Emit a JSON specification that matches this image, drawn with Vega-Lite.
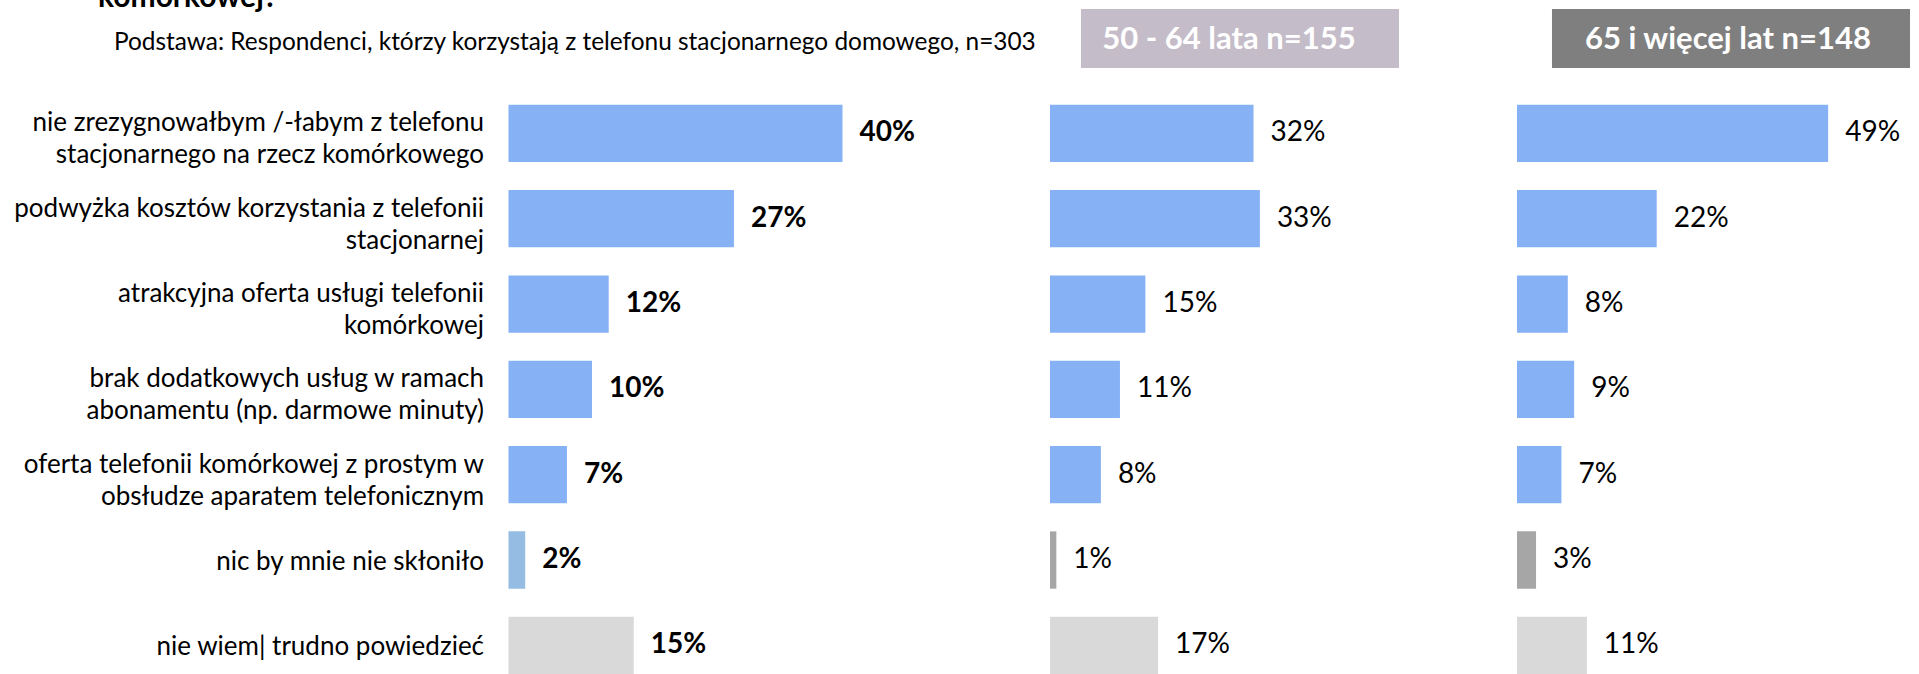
{
  "$schema": "https://vega.github.io/schema/vega-lite/v6.json",
  "width": 1919,
  "height": 674,
  "autosize": {"type": "fit", "contains": "padding"},
  "padding": 0,
  "background": "white",
  "config": {"view": {"stroke": null}, "font": "Lato", "text": {"color": "#000000"}},
  "datasets": {
    "wyniki": [
      {"grupa": "ogółem n=303", "powod": "nie zrezygnowałbym /-łabym z telefonu\nstacjonarnego na rzecz komórkowego", "udzial": 0.40},
      {"grupa": "ogółem n=303", "powod": "podwyżka kosztów korzystania z telefonii\nstacjonarnej", "udzial": 0.27},
      {"grupa": "ogółem n=303", "powod": "atrakcyjna oferta usługi telefonii\nkomórkowej", "udzial": 0.12},
      {"grupa": "ogółem n=303", "powod": "brak dodatkowych usług w ramach \nabonamentu (np. darmowe minuty)", "udzial": 0.10},
      {"grupa": "ogółem n=303", "powod": "oferta telefonii komórkowej z prostym w\nobsłudze aparatem telefonicznym", "udzial": 0.07},
      {"grupa": "ogółem n=303", "powod": "nic by mnie nie skłoniło", "udzial": 0.02},
      {"grupa": "ogółem n=303", "powod": "nie wiem| trudno powiedzieć", "udzial": 0.15},
      {"grupa": "50 - 64 lata n=155", "powod": "nie zrezygnowałbym /-łabym z telefonu\nstacjonarnego na rzecz komórkowego", "udzial": 0.32},
      {"grupa": "50 - 64 lata n=155", "powod": "podwyżka kosztów korzystania z telefonii\nstacjonarnej", "udzial": 0.33},
      {"grupa": "50 - 64 lata n=155", "powod": "atrakcyjna oferta usługi telefonii\nkomórkowej", "udzial": 0.15},
      {"grupa": "50 - 64 lata n=155", "powod": "brak dodatkowych usług w ramach \nabonamentu (np. darmowe minuty)", "udzial": 0.11},
      {"grupa": "50 - 64 lata n=155", "powod": "oferta telefonii komórkowej z prostym w\nobsłudze aparatem telefonicznym", "udzial": 0.08},
      {"grupa": "50 - 64 lata n=155", "powod": "nic by mnie nie skłoniło", "udzial": 0.01},
      {"grupa": "50 - 64 lata n=155", "powod": "nie wiem| trudno powiedzieć", "udzial": 0.17},
      {"grupa": "65 i więcej lat n=148", "powod": "nie zrezygnowałbym /-łabym z telefonu\nstacjonarnego na rzecz komórkowego", "udzial": 0.49},
      {"grupa": "65 i więcej lat n=148", "powod": "podwyżka kosztów korzystania z telefonii\nstacjonarnej", "udzial": 0.22},
      {"grupa": "65 i więcej lat n=148", "powod": "atrakcyjna oferta usługi telefonii\nkomórkowej", "udzial": 0.08},
      {"grupa": "65 i więcej lat n=148", "powod": "brak dodatkowych usług w ramach \nabonamentu (np. darmowe minuty)", "udzial": 0.09},
      {"grupa": "65 i więcej lat n=148", "powod": "oferta telefonii komórkowej z prostym w\nobsłudze aparatem telefonicznym", "udzial": 0.07},
      {"grupa": "65 i więcej lat n=148", "powod": "nic by mnie nie skłoniło", "udzial": 0.03},
      {"grupa": "65 i więcej lat n=148", "powod": "nie wiem| trudno powiedzieć", "udzial": 0.11}
    ],
    "naglowki": [
      {"grupa": "50 - 64 lata n=155"},
      {"grupa": "65 i więcej lat n=148"}
    ],
    "opisy": [
      {"rodzaj": "tytul", "tekst": "komórkowej?"},
      {"rodzaj": "podstawa", "tekst": "Podstawa: Respondenci, którzy korzystają z telefonu stacjonarnego domowego, n=303"}
    ]
  },
  "resolve": {"scale": {"x": "independent", "y": "independent"}},
  "layer": [
    {
      "data": {"name": "wyniki"},
      "transform": [{"filter": "datum.grupa == 'ogółem n=303'"}],
      "encoding": {
        "y": {
          "field": "powod", "type": "nominal", "sort": null, "axis": null,
          "scale": {
            "type": "band",
            "domain": [
              "nie zrezygnowałbym /-łabym z telefonu\nstacjonarnego na rzecz komórkowego",
              "podwyżka kosztów korzystania z telefonii\nstacjonarnej",
              "atrakcyjna oferta usługi telefonii\nkomórkowej",
              "brak dodatkowych usług w ramach \nabonamentu (np. darmowe minuty)",
              "oferta telefonii komórkowej z prostym w\nobsłudze aparatem telefonicznym",
              "nic by mnie nie skłoniło",
              "nie wiem| trudno powiedzieć"
            ],
            "paddingInner": 0.3285, "paddingOuter": 0.6137, "align": 1
          }
        }
      },
      "layer": [
        {
          "mark": {"type": "bar"},
          "encoding": {
            "x": {"field": "udzial", "type": "quantitative", "axis": null, "scale": {"domain": [-0.60898, 1.68922], "zero": false, "nice": false}},
            "x2": {"datum": 0},
            "color": {
              "condition": [
                {"test": "datum.powod == 'nic by mnie nie skłoniło'", "value": "#95BCE2"},
                {"test": "datum.powod == 'nie wiem| trudno powiedzieć'", "value": "#D9D9D9"}
              ],
              "value": "#86B2F5"
            }
          }
        },
        {
          "mark": {"type": "text", "align": "left", "baseline": "middle", "dx": 17, "fontSize": 28, "fontWeight": "bold"},
          "encoding": {
            "x": {"field": "udzial", "type": "quantitative"},
            "text": {"field": "udzial", "type": "quantitative", "format": ".0%"}
          }
        },
        {
          "transform": [{"filter": "datum.powod != 'nic by mnie nie skłoniło' && datum.powod != 'nie wiem| trudno powiedzieć'"}],
          "mark": {"type": "text", "align": "right", "baseline": "middle", "dy": -10, "fontSize": 26, "lineBreak": "\n", "lineHeight": 32},
          "encoding": {
            "x": {"datum": -0.0293, "type": "quantitative"},
            "text": {"field": "powod", "type": "nominal"}
          }
        },
        {
          "transform": [{"filter": "datum.powod == 'nic by mnie nie skłoniło' || datum.powod == 'nie wiem| trudno powiedzieć'"}],
          "mark": {"type": "text", "align": "right", "baseline": "middle", "dy": 2, "fontSize": 26},
          "encoding": {
            "x": {"datum": -0.0293, "type": "quantitative"},
            "text": {"field": "powod", "type": "nominal"}
          }
        }
      ]
    },
    {
      "data": {"name": "wyniki"},
      "transform": [{"filter": "datum.grupa == '50 - 64 lata n=155'"}],
      "encoding": {
        "y": {
          "field": "powod", "type": "nominal", "sort": null, "axis": null,
          "scale": {
            "type": "band",
            "domain": [
              "nie zrezygnowałbym /-łabym z telefonu\nstacjonarnego na rzecz komórkowego",
              "podwyżka kosztów korzystania z telefonii\nstacjonarnej",
              "atrakcyjna oferta usługi telefonii\nkomórkowej",
              "brak dodatkowych usług w ramach \nabonamentu (np. darmowe minuty)",
              "oferta telefonii komórkowej z prostym w\nobsłudze aparatem telefonicznym",
              "nic by mnie nie skłoniło",
              "nie wiem| trudno powiedzieć"
            ],
            "paddingInner": 0.3285, "paddingOuter": 0.6137, "align": 1
          }
        }
      },
      "layer": [
        {
          "mark": {"type": "bar"},
          "encoding": {
            "x": {"field": "udzial", "type": "quantitative", "axis": null, "scale": {"domain": [-1.65094, 1.36635], "zero": false, "nice": false}},
            "x2": {"datum": 0},
            "color": {
              "condition": [
                {"test": "datum.powod == 'nic by mnie nie skłoniło'", "value": "#A6A6A6"},
                {"test": "datum.powod == 'nie wiem| trudno powiedzieć'", "value": "#D9D9D9"}
              ],
              "value": "#86B2F5"
            }
          }
        },
        {
          "mark": {"type": "text", "align": "left", "baseline": "middle", "dx": 17, "fontSize": 28},
          "encoding": {
            "x": {"field": "udzial", "type": "quantitative"},
            "text": {"field": "udzial", "type": "quantitative", "format": ".0%"}
          }
        }
      ]
    },
    {
      "data": {"name": "wyniki"},
      "transform": [{"filter": "datum.grupa == '65 i więcej lat n=148'"}],
      "encoding": {
        "y": {
          "field": "powod", "type": "nominal", "sort": null, "axis": null,
          "scale": {
            "type": "band",
            "domain": [
              "nie zrezygnowałbym /-łabym z telefonu\nstacjonarnego na rzecz komórkowego",
              "podwyżka kosztów korzystania z telefonii\nstacjonarnej",
              "atrakcyjna oferta usługi telefonii\nkomórkowej",
              "brak dodatkowych usług w ramach \nabonamentu (np. darmowe minuty)",
              "oferta telefonii komórkowej z prostym w\nobsłudze aparatem telefonicznym",
              "nic by mnie nie skłoniło",
              "nie wiem| trudno powiedzieć"
            ],
            "paddingInner": 0.3285, "paddingOuter": 0.6137, "align": 1
          }
        }
      },
      "layer": [
        {
          "mark": {"type": "bar"},
          "encoding": {
            "x": {"field": "udzial", "type": "quantitative", "axis": null, "scale": {"domain": [-2.38898, 0.63307], "zero": false, "nice": false}},
            "x2": {"datum": 0},
            "color": {
              "condition": [
                {"test": "datum.powod == 'nic by mnie nie skłoniło'", "value": "#A6A6A6"},
                {"test": "datum.powod == 'nie wiem| trudno powiedzieć'", "value": "#D9D9D9"}
              ],
              "value": "#86B2F5"
            }
          }
        },
        {
          "mark": {"type": "text", "align": "left", "baseline": "middle", "dx": 17, "fontSize": 28},
          "encoding": {
            "x": {"field": "udzial", "type": "quantitative"},
            "text": {"field": "udzial", "type": "quantitative", "format": ".0%"}
          }
        }
      ]
    },
    {
      "data": {"name": "naglowki"},
      "transform": [{"filter": "datum.grupa == '50 - 64 lata n=155'"}],
      "encoding": {
        "y": {"field": "grupa", "type": "nominal", "axis": null, "scale": {"type": "band", "domain": ["50 - 64 lata n=155"], "paddingInner": 0.8081, "paddingOuter": 1, "align": 0.01463}}
      },
      "layer": [
        {
          "mark": {"type": "bar", "color": "#C4BCC8"},
          "encoding": {
            "x": {"datum": 0.0487, "type": "quantitative", "axis": null, "scale": {"domain": [-1.65094, 1.36635], "zero": false, "nice": false}},
            "x2": {"datum": 0.5487}
          }
        },
        {
          "mark": {"type": "text", "align": "center", "baseline": "alphabetic", "dy": 10.5, "fontSize": 31, "fontWeight": "bold", "color": "#FFFFFF"},
          "encoding": {
            "x": {"datum": 0.2814, "type": "quantitative"},
            "text": {"field": "grupa", "type": "nominal"}
          }
        }
      ]
    },
    {
      "data": {"name": "naglowki"},
      "transform": [{"filter": "datum.grupa == '65 i więcej lat n=148'"}],
      "encoding": {
        "y": {"field": "grupa", "type": "nominal", "axis": null, "scale": {"type": "band", "domain": ["65 i więcej lat n=148"], "paddingInner": 0.8081, "paddingOuter": 1, "align": 0.01463}}
      },
      "layer": [
        {
          "mark": {"type": "bar", "color": "#7F7F7F"},
          "encoding": {
            "x": {"datum": 0.0551, "type": "quantitative", "axis": null, "scale": {"domain": [-2.38898, 0.63307], "zero": false, "nice": false}},
            "x2": {"datum": 0.6189}
          }
        },
        {
          "mark": {"type": "text", "align": "center", "baseline": "alphabetic", "dy": 10.5, "fontSize": 31, "fontWeight": "bold", "color": "#FFFFFF"},
          "encoding": {
            "x": {"datum": 0.3323, "type": "quantitative"},
            "text": {"field": "grupa", "type": "nominal"}
          }
        }
      ]
    },
    {
      "data": {"name": "opisy"},
      "encoding": {
        "y": {"datum": "naglowek", "type": "nominal", "axis": null, "scale": {"type": "band", "domain": ["naglowek"], "paddingInner": 0.8081, "paddingOuter": 1, "align": 0.01463}}
      },
      "layer": [
        {
          "transform": [{"filter": "datum.rodzaj == 'podstawa'"}],
          "mark": {"type": "text", "align": "left", "baseline": "alphabetic", "dy": 11.5, "fontSize": 24.4},
          "encoding": {
            "x": {"datum": -0.4725, "type": "quantitative", "axis": null, "scale": {"domain": [-0.60898, 1.68922], "zero": false, "nice": false}},
            "text": {"field": "tekst", "type": "nominal"}
          }
        },
        {
          "transform": [{"filter": "datum.rodzaj == 'tytul'"}],
          "mark": {"type": "text", "align": "left", "baseline": "alphabetic", "dy": -31.5, "fontSize": 30, "fontWeight": "bold", "clip": true},
          "encoding": {
            "x": {"datum": -0.4916, "type": "quantitative"},
            "text": {"field": "tekst", "type": "nominal"}
          }
        }
      ]
    }
  ]
}
